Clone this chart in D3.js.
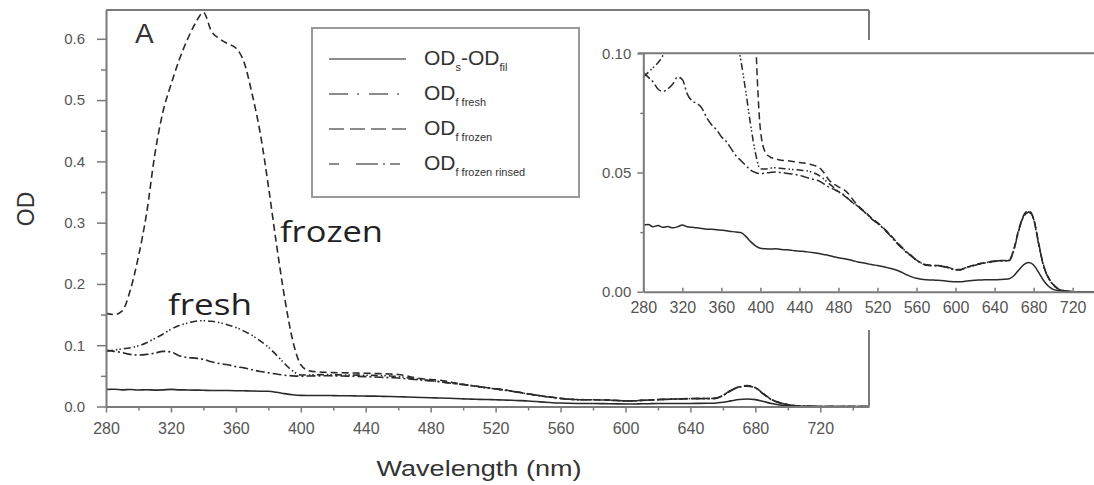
<!DOCTYPE html>
<html>
<head>
<meta charset="utf-8">
<script src="https://cdn.jsdelivr.net/npm/d3@7"></script>
<style>
  html, body { margin: 0; padding: 0; background: #fff; }
  svg { display: block; }
  text { font-family: "Liberation Sans", Arial, sans-serif; }
</style>
</head>
<body>
<script>
// Wavelength grid (nm)
const wavelengths = [280,285,290,295,300,305,310,315,320,325,330,335,340,345,350,355,360,365,370,375,
  380,385,390,395,400,405,410,415,420,425,430,435,440,445,450,455,460,465,470,475,
  480,485,490,495,500,505,510,515,520,525,530,535,540,545,550,555,560,565,570,575,
  580,585,590,595,600,605,610,615,620,625,630,635,640,645,650,655,660,665,670,675,
  680,685,690,695,700,705,710,715,720,725,730,735,740,745,750];

// OD_s - OD_fil
const odSFil = [.0280,.0282,.0272,.0278,.0270,.0273,.0268,.0272,.0280,.0272,.0270,.0268,.0265,.0262,.0262,.0260,.0258,.0256,.0253,.0250,
  .0248,.0232,.0210,.0192,.0182,.0180,.0179,.0180,.0178,.0176,.0175,.0172,.0170,.0169,.0166,.0163,.0160,.0156,.0152,.0147,
  .0142,.0139,.0135,.0130,.0125,.0121,.0117,.0113,.0110,.0106,.0101,.0096,.0090,.0081,.0071,.0062,.0056,.0052,.0050,.0049,
  .0048,.0047,.0045,.0043,.0042,.0042,.0044,.0046,.0048,.0049,.0050,.0050,.0050,.0051,.0052,.0054,.0068,.0092,.0114,.0122,
  .0112,.0082,.0048,.0024,.0010,.0005,.0002,.0001,0,0,0,0,0,0,0];

// OD_f fresh
const odFresh = [.090,.092,.094,.096,.099,.104,.111,.118,.126,.132,.136,.139,.140,.139,.137,.133,.129,.123,.116,.107,
  .097,.084,.070,.058,.0515,.0515,.0518,.0520,.0518,.0516,.0514,.0512,.0510,.0508,.0505,.0498,.0488,.0472,.0455,.0438,
  .0420,.0405,.0390,.0372,.0358,.0340,.0322,.0302,.0288,.0270,.0250,.0228,.0205,.0185,.0165,.0150,.0132,.0120,.0112,.0110,
  .0110,.0108,.0104,.0098,.0092,.0092,.0100,.0106,.0112,.0117,.0121,.0125,.0128,.0130,.0130,.0132,.0180,.0262,.0318,.0335,
  .0305,.0205,.0112,.0060,.0030,.0012,.0005,.0002,0,0,0,0,0,0,0];

// OD_f frozen
const odFrozen = [.152,.150,.156,.190,.245,.315,.410,.480,.525,.565,.598,.625,.643,.612,.600,.592,.585,.562,.510,.446,
  .360,.265,.178,.108,.068,.0585,.0565,.0558,.0552,.0550,.0548,.0545,.0542,.0540,.0535,.0530,.0522,.0500,.0470,.0452,
  .0440,.0430,.0412,.0385,.0362,.0342,.0325,.0305,.0290,.0272,.0252,.0230,.0207,.0187,.0166,.0150,.0133,.0121,.0113,.0111,
  .0110,.0109,.0105,.0099,.0093,.0093,.0101,.0107,.0113,.0118,.0122,.0126,.0129,.0131,.0131,.0133,.0182,.0265,.0322,.0340,
  .0308,.0208,.0114,.0061,.0031,.0013,.0005,.0002,0,0,0,0,0,0,0];

// OD_f frozen rinsed
const odFrozenRinsed = [.092,.090,.088,.085,.084,.085,.087,.090,.089,.083,.080,.079,.077,.073,.070,.068,.065,.063,.060,.057,
  .055,.053,.051,.050,.0495,.0498,.0500,.0502,.0500,.0498,.0495,.0492,.0488,.0482,.0476,.0470,.0465,.0452,.0440,.0430,
  .0420,.0408,.0390,.0372,.0358,.0340,.0322,.0302,.0287,.0268,.0248,.0226,.0203,.0183,.0163,.0148,.0131,.0119,.0111,.0109,
  .0109,.0107,.0103,.0097,.0091,.0091,.0099,.0105,.0111,.0116,.0120,.0124,.0127,.0129,.0129,.0131,.0178,.0260,.0316,.0333,
  .0303,.0203,.0110,.0059,.0029,.0012,.0005,.0002,0,0,0,0,0,0,0];

// Axis ticks
const mainXTicks = [280,320,360,400,440,480,520,560,600,640,680,720];
const mainXMinor = [300,340,380,420,460,500,540,580,620,660,700,740];
const mainYTicks = [0.0,0.1,0.2,0.3,0.4,0.5,0.6];
const mainYMinor = [0.05,0.15,0.25,0.35,0.45,0.55];
const insetXTicks = [280,320,360,400,440,480,520,560,600,640,680,720];
const insetYTicks = [0.00,0.05,0.10];
const insetYMinor = [0.025,0.075];

const seriesNames = ["ODs-ODfil", "ODf fresh", "ODf frozen", "ODf frozen rinsed"];
const seriesValues = [odSFil, odFresh, odFrozen, odFrozenRinsed];
const lineDash = [null, "7,3,1.5,2,1.5,3", "7,4", "9,3,2,3"];
const legendDash = [null, "19,9,2,10", "15,6", "10,17,22,5,2,5"];

const W = 1094, H = 485;
const ink = "#2a2a2a", axisCol = "#7a7a7a", labelCol = "#555";

const svg = d3.select("body").append("svg").attr("width", W).attr("height", H);

const series = seriesValues.map((vals, k) => ({
  name: seriesNames[k],
  dash: lineDash[k],
  points: wavelengths.map((w, i) => ({ w, v: vals[i] }))
}));

// ---------- main panel ----------
const x = d3.scaleLinear().domain([280, 750]).range([106, 869]);
const y = d3.scaleLinear().domain([0, 0.647]).range([406.5, 10]);

svg.append("clipPath").attr("id", "clipMain")
  .append("rect").attr("x", 106).attr("y", 8).attr("width", 763).attr("height", 400);

const lineMain = d3.line().x(d => x(d.w)).y(d => y(d.v)).curve(d3.curveMonotoneX);

svg.append("g").attr("clip-path", "url(#clipMain)")
  .selectAll("path").data(series).join("path")
  .attr("d", d => lineMain(d.points))
  .attr("fill", "none").attr("stroke", ink).attr("stroke-width", 1.6)
  .attr("stroke-dasharray", d => d.dash);

// frame (top and right)
svg.append("line").attr("x1", 106).attr("x2", 869).attr("y1", 10).attr("y2", 10)
  .attr("stroke", axisCol).attr("stroke-width", 2);
svg.append("line").attr("x1", 869).attr("x2", 869).attr("y1", 10).attr("y2", 406.5)
  .attr("stroke", axisCol).attr("stroke-width", 2);

function styleAxis(g, fontSize) {
  g.select(".domain").attr("stroke", axisCol).attr("stroke-width", 2);
  g.selectAll(".tick line").attr("stroke", axisCol).attr("stroke-width", 1.5);
  g.selectAll(".tick text").attr("fill", labelCol).style("font-size", fontSize + "px")
    .style("font-family", "'Liberation Sans', Arial, sans-serif");
}

const gx = svg.append("g").attr("transform", `translate(0,${y(0)})`)
  .call(d3.axisBottom(x).tickValues(mainXTicks).tickFormat(d3.format("d")).tickSize(6).tickSizeOuter(0).tickPadding(10));
styleAxis(gx, 16);
const gxm = svg.append("g").attr("transform", `translate(0,${y(0)})`)
  .call(d3.axisBottom(x).tickValues(mainXMinor).tickFormat("").tickSize(4).tickSizeOuter(0));
gxm.select(".domain").remove();
gxm.selectAll(".tick line").attr("stroke", axisCol).attr("stroke-width", 1.5);

const gy = svg.append("g").attr("transform", `translate(${x(280)},0)`)
  .call(d3.axisLeft(y).tickValues(mainYTicks).tickFormat(d3.format(".1f")).tickSize(9).tickSizeOuter(0).tickPadding(12));
styleAxis(gy, 15);
const gym = svg.append("g").attr("transform", `translate(${x(280)},0)`)
  .call(d3.axisLeft(y).tickValues(mainYMinor).tickFormat("").tickSize(5).tickSizeOuter(0));
gym.select(".domain").remove();
gym.selectAll(".tick line").attr("stroke", axisCol).attr("stroke-width", 1.5);

// axis titles and annotations
svg.append("text").attr("x", 479).attr("y", 476).attr("text-anchor", "middle")
  .attr("fill", "#333").style("font-size", "22px")
  .attr("textLength", 205).attr("lengthAdjust", "spacingAndGlyphs")
  .text("Wavelength (nm)");
svg.append("text").attr("transform", "translate(34,209) rotate(-90)").attr("text-anchor", "middle")
  .attr("fill", "#333").style("font-size", "23px").text("OD");
svg.append("text").attr("x", 135).attr("y", 43).attr("fill", "#333").style("font-size", "28px").text("A");

svg.append("text").attr("x", 280).attr("y", 242).attr("fill", "#222")
  .style("font-family", "'Open Sans', 'Noto Sans', sans-serif").style("font-size", "29px")
  .attr("textLength", 103).attr("lengthAdjust", "spacingAndGlyphs").text("frozen");
svg.append("text").attr("x", 168).attr("y", 315).attr("fill", "#222")
  .style("font-family", "'Open Sans', 'Noto Sans', sans-serif").style("font-size", "29px")
  .attr("textLength", 84).attr("lengthAdjust", "spacingAndGlyphs").text("fresh");

// ---------- legend ----------
const legend = svg.append("g");
legend.append("rect").attr("x", 312).attr("y", 28).attr("width", 267).attr("height", 169)
  .attr("fill", "#fff").attr("stroke", "#999").attr("stroke-width", 2);
const rowY = [59, 94, 129, 164];
const legendParts = [
  [["OD", 0], ["s", 1], ["-OD", 0], ["fil", 1]],
  [["OD", 0], ["f fresh", 1]],
  [["OD", 0], ["f frozen", 1]],
  [["OD", 0], ["f frozen rinsed", 1]]
];
rowY.forEach((ry, k) => {
  legend.append("line").attr("x1", 329).attr("x2", 406).attr("y1", ry).attr("y2", ry)
    .attr("stroke", "#666").attr("stroke-width", 1.6).attr("stroke-dasharray", legendDash[k]);
  const t = legend.append("text").attr("x", 424).attr("y", ry + 6).attr("fill", "#333").style("font-size", "21px");
  let sub = false;
  legendParts[k].forEach(([s, isSub]) => {
    const ts = t.append("tspan").text(s);
    if (isSub && !sub) { ts.attr("dy", 6).style("font-size", "11px"); sub = true; }
    else if (!isSub && sub) { ts.attr("dy", -6); sub = false; }
  });
});

// ---------- inset ----------
const xi = d3.scaleLinear().domain([280, 750]).range([643.3, 1101.9]);
const yi = d3.scaleLinear().domain([0, 0.10]).range([291.7, 53.3]);

svg.append("rect").attr("x", 588).attr("y", 40).attr("width", W - 588).attr("height", 290).attr("fill", "#fff");

svg.append("clipPath").attr("id", "clipInset")
  .append("rect").attr("x", 643.3).attr("y", 53.3).attr("width", W - 643.3).attr("height", 240);

const lineInset = d3.line().x(d => xi(d.w)).y(d => yi(d.v)).curve(d3.curveMonotoneX);
svg.append("g").attr("clip-path", "url(#clipInset)")
  .selectAll("path").data(series).join("path")
  .attr("d", d => lineInset(d.points))
  .attr("fill", "none").attr("stroke", ink).attr("stroke-width", 1.5)
  .attr("stroke-dasharray", d => d.dash);

svg.append("line").attr("x1", 638).attr("x2", W).attr("y1", yi(0.10)).attr("y2", yi(0.10))
  .attr("stroke", axisCol).attr("stroke-width", 2);

const gxi = svg.append("g").attr("transform", `translate(0,${yi(0)})`)
  .call(d3.axisBottom(xi).tickValues(insetXTicks).tickFormat(d3.format("d")).tickSize(-4).tickSizeOuter(0).tickPadding(10));
styleAxis(gxi, 16);
const gyi = svg.append("g").attr("transform", `translate(${xi(280)},0)`)
  .call(d3.axisLeft(yi).tickValues(insetYTicks).tickFormat(d3.format(".2f")).tickSize(6).tickSizeOuter(0).tickPadding(6));
styleAxis(gyi, 15);
const gyim = svg.append("g").attr("transform", `translate(${xi(280)},0)`)
  .call(d3.axisLeft(yi).tickValues(insetYMinor).tickFormat("").tickSize(3).tickSizeOuter(0));
gyim.select(".domain").remove();
gyim.selectAll(".tick line").attr("stroke", axisCol).attr("stroke-width", 1.5);
</script>
</body>
</html>
